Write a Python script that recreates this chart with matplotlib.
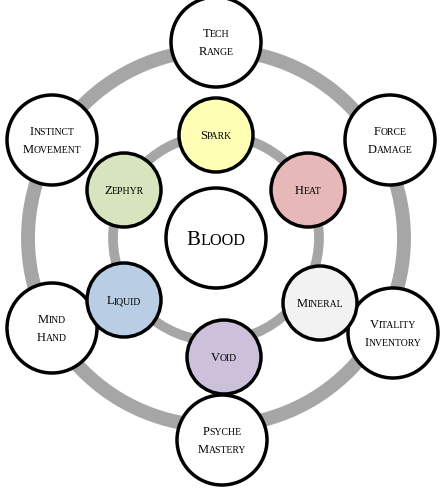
import matplotlib
matplotlib.use('Agg')
import matplotlib.pyplot as plt
from matplotlib.patches import Circle

# diagram layout (pixel coords)
center_label = 'Blood'
center_pos = (216, 238)

inner_labels = ['Spark', 'Heat', 'Mineral', 'Void', 'Liquid', 'Zephyr']
inner_pos = [(216, 135), (308, 190), (320, 303), (224, 357), (124, 300), (124, 190)]
inner_colors = ['#ffffb5', '#e6b8b7', '#f2f2f2', '#ccc0da', '#b9cde5', '#d7e4bd']

outer_labels = ['Tech\nRange', 'Force\nDamage', 'Vitality\nInventory',
                'Psyche\nMastery', 'Mind\nHand', 'Instinct\nMovement']
outer_pos = [(216, 42), (390, 140), (393, 333), (222, 440), (52, 328), (52, 140)]

fig = plt.figure(figsize=(4.46, 4.95), dpi=100)
ax = fig.add_axes([0, 0, 1, 1])
ax.set_xlim(0, 446)
ax.set_ylim(495, 0)
ax.set_aspect('equal')
ax.axis('off')
renderer = fig.canvas.get_renderer()

font = 'Liberation Serif'

# gray rings
ax.add_patch(Circle(center_pos, 188, fill=False, ec='#a6a6a6', lw=10, zorder=1))
ax.add_patch(Circle(center_pos, 103, fill=False, ec='#a6a6a6', lw=7, zorder=1))

def small_caps(x, y, word, size):
    # first letter full size, rest as smaller capitals
    big = ax.text(0, 0, word[0].upper(), family=font, fontsize=size, zorder=5,
                  ha='left', va='baseline')
    small = ax.text(0, 0, word[1:].upper(), family=font, fontsize=size * 0.78,
                    zorder=5, ha='left', va='baseline')
    wb = big.get_window_extent(renderer).width
    ws = small.get_window_extent(renderer).width
    total = wb + ws
    cap = size * 0.66 * 100 / 72  # approx cap height in px
    x0 = x - total / 2
    base = y + cap / 2
    big.set_position((x0, base))
    small.set_position((x0 + wb, base))

def label(x, y, s, size):
    lines = s.split('\n')
    gap = size * 1.45 * 100 / 72
    y0 = y - gap * (len(lines) - 1) / 2
    for i, ln in enumerate(lines):
        small_caps(x, y0 + i * gap, ln, size)

for (x, y), s in zip(outer_pos, outer_labels):
    ax.add_patch(Circle((x, y), 45, fc='white', ec='black', lw=2.5, zorder=2))
    label(x, y, s, 9)

for (x, y), s, c in zip(inner_pos, inner_labels, inner_colors):
    ax.add_patch(Circle((x, y), 37, fc=c, ec='black', lw=2.5, zorder=3))
    label(x, y, s, 9)

ax.add_patch(Circle(center_pos, 50, fc='white', ec='black', lw=2.5, zorder=3))
label(center_pos[0], center_pos[1], center_label, 15)

fig.savefig('out.png', dpi=100)
